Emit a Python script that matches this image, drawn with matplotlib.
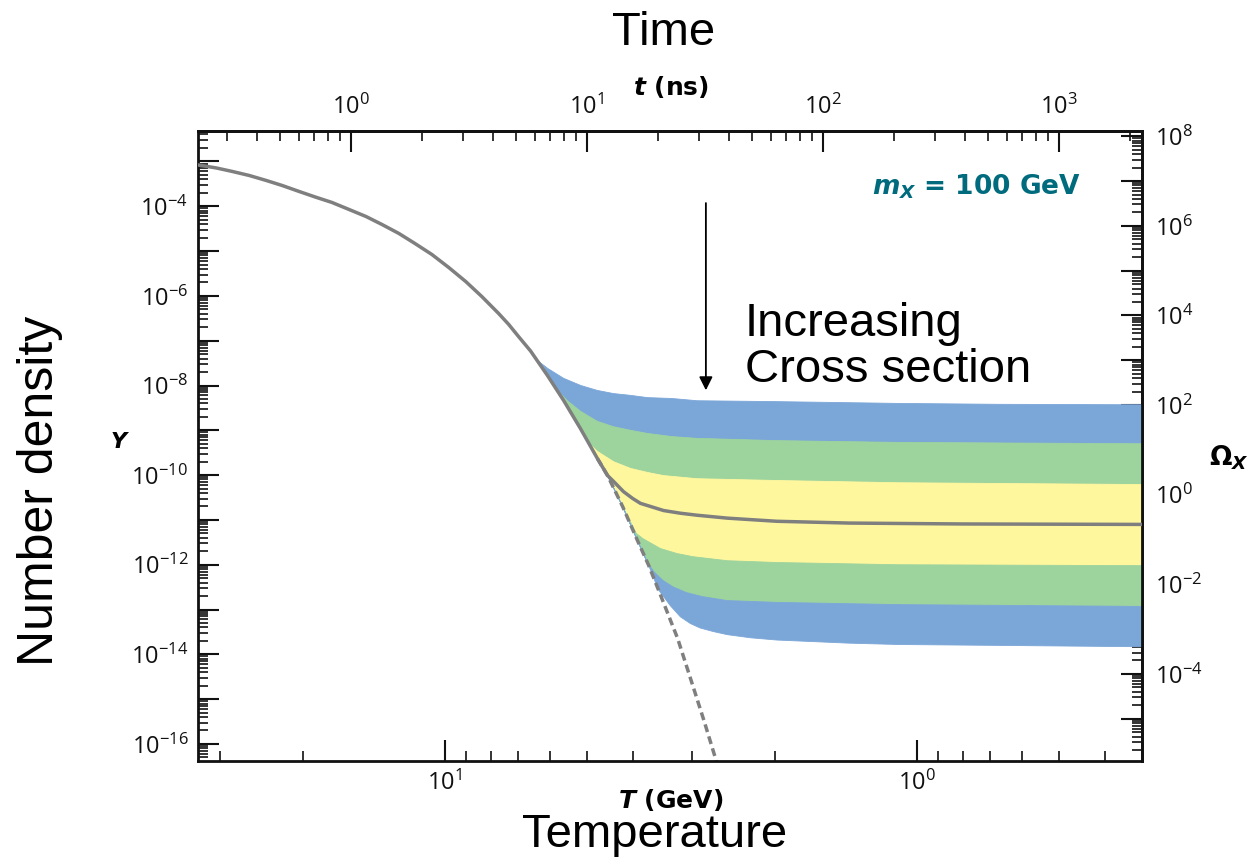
import matplotlib
matplotlib.use('Agg')
import matplotlib.pyplot as plt
import matplotlib.ticker as mticker
import numpy as np

plt.rcParams['font.family'] = ['Open Sans', 'DejaVu Sans']
plt.rcParams['mathtext.fontset'] = 'custom'
plt.rcParams['mathtext.it'] = 'DejaVu Sans:italic:bold'
plt.rcParams['mathtext.rm'] = 'DejaVu Sans:bold'
plt.rcParams['mathtext.bf'] = 'DejaVu Sans:bold'

# conversions
omega_per_Y = 2.74e10      # Omega_X / Y  (m_X = 100 GeV)
t_coef = 250.0             # t[ns] * T[GeV]^2

# equilibrium curve (solid above, dashed below freeze-out), T in GeV, log10 Y
eq_T = np.array([33.33, 30.49, 28.20, 25.96, 23.90, 22.11, 20.35, 18.83, 17.34, 15.96,
                 14.69, 13.59, 12.51, 11.57, 10.65, 9.81, 9.03, 8.35, 7.69, 7.32,
                 6.98, 6.58, 6.06, 5.60, 5.16, 4.75, 4.52,
                 4.20, 3.91, 3.70, 3.49, 3.21, 2.98, 2.82, 2.67, 2.60])
eq_Yexp = np.array([-3.078, -3.145, -3.223, -3.313, -3.424, -3.536, -3.670, -3.792, -3.915, -4.071,
                    -4.228, -4.406, -4.607, -4.830, -5.076, -5.366, -5.679, -6.013, -6.393, -6.638,
                    -6.906, -7.230, -7.777, -8.335, -8.960, -9.629, -10.009,
                    -10.70, -11.45, -12.01, -12.68, -13.65, -14.71, -15.50, -16.32, -16.75])

# freeze-out curves, from smallest to largest cross section (log10 Y)
c1_T = [6.58, 6.33, 6.05, 5.60, 5.15, 4.75, 4.39, 4.04, 3.72, 3.30, 2.92, 1.98, 1.09, 0.667, 0.333]
c1_Y = [-7.25, -7.46, -7.62, -7.84, -8.00, -8.11, -8.18, -8.22, -8.27, -8.29, -8.34, -8.36, -8.40, -8.42, -8.43]
c2_T = [5.77, 5.50, 5.15, 4.75, 4.39, 4.04, 3.72, 3.30, 2.92, 1.98, 1.09, 0.333]
c2_Y = [-8.11, -8.34, -8.58, -8.80, -8.92, -9.00, -9.07, -9.14, -9.18, -9.23, -9.27, -9.30]
c3_T = [5.15, 4.96, 4.75, 4.39, 4.04, 3.72, 3.44, 2.92, 1.98, 1.09, 0.333]
c3_Y = [-8.96, -9.28, -9.47, -9.70, -9.85, -9.94, -10.01, -10.08, -10.12, -10.17, -10.21]
mid_T = [4.39, 4.18, 4.00, 3.85, 3.44, 3.17, 2.92, 2.52, 1.98, 1.39, 0.80, 0.333]
mid_Y = [-10.14, -10.37, -10.52, -10.63, -10.79, -10.85, -10.895, -10.96, -11.03, -11.07, -11.09, -11.10]
c5_T = [4.04, 3.93, 3.80, 3.49, 3.22, 2.98, 2.52, 1.98, 1.09, 0.333]
c5_Y = [-11.05, -11.30, -11.42, -11.64, -11.75, -11.82, -11.91, -11.95, -12.00, -12.02]
c6_T = [3.73, 3.61, 3.45, 3.29, 3.08, 2.85, 2.52, 1.98, 1.09, 0.333]
c6_Y = [-11.93, -12.15, -12.35, -12.49, -12.62, -12.71, -12.80, -12.84, -12.89, -12.93]
c7_T = [3.53, 3.33, 3.17, 3.02, 2.88, 2.70, 2.52, 2.25, 1.98, 1.39, 1.09, 0.667, 0.333]
c7_Y = [-12.55, -12.91, -13.16, -13.31, -13.41, -13.49, -13.56, -13.63, -13.68, -13.75, -13.78, -13.80, -13.83]

blue = '#7ba6d8'
green = '#9dd39d'
yellow = '#fff79e'
band_colors = [blue, green, yellow, yellow, green, blue]
line_gray = '#7f7f7f'

T_lim = (33.33, 0.3333)
Y_lim = (10 ** -16.38, 10 ** -2.32)


def full_curve(T_pts, Y_exp):
    # a freeze-out curve follows the equilibrium line until it leaves it
    keep = eq_T > T_pts[0]
    T = np.concatenate([eq_T[keep], T_pts])
    Y = 10.0 ** np.concatenate([eq_Yexp[keep], Y_exp])
    return T, Y


def T_to_t(T):
    T = np.asarray(T, float)
    with np.errstate(divide='ignore', invalid='ignore'):
        return t_coef / T ** 2


def t_to_T(t):
    t = np.asarray(t, float)
    with np.errstate(divide='ignore', invalid='ignore'):
        return np.sqrt(t_coef / t)


def Y_to_Om(y):
    return np.asarray(y, float) * omega_per_Y


def Om_to_Y(o):
    return np.asarray(o, float) / omega_per_Y


def make_formatter(lo, hi, every=1):
    lo, hi = min(lo, hi), max(lo, hi)

    def fmt(v, pos):
        if v < lo * 0.999 or v > hi * 1.001:
            return ''
        e = int(round(np.log10(v)))
        if e % every:
            return ''
        return r'$\mathdefault{10^{%d}}$' % e
    return fmt


fig = plt.figure(figsize=(12.54, 8.64), dpi=100)
ax = fig.add_axes([0.1579, 0.1192, 0.7528, 0.7292])
ax.set_xscale('log')
ax.set_yscale('log')

curves = [full_curve(c1_T, c1_Y), full_curve(c2_T, c2_Y), full_curve(c3_T, c3_Y),
          full_curve(mid_T, mid_Y), full_curve(c5_T, c5_Y), full_curve(c6_T, c6_Y),
          full_curve(c7_T, c7_Y)]

for (Ta, Ya), (Tb, Yb), col in zip(curves[:-1], curves[1:], band_colors):
    ax.fill(np.concatenate([Ta, Tb[::-1]]), np.concatenate([Ya, Yb[::-1]]),
            facecolor=col, edgecolor=col, lw=0.6, zorder=1)

dash = eq_T <= 4.75
ax.plot(eq_T[dash], 10.0 ** eq_Yexp[dash], color=line_gray, lw=2.5,
        linestyle=(0, (2.3, 1.3)), zorder=2)
ax.plot(curves[3][0], curves[3][1], color=line_gray, lw=2.5, zorder=3,
        solid_joinstyle='round')

ax.set_xlim(*T_lim)
ax.set_ylim(*Y_lim)

top = ax.secondary_xaxis('top', functions=(T_to_t, t_to_T))
right = ax.secondary_yaxis('right', functions=(Y_to_Om, Om_to_Y))

for axis in (ax.xaxis, ax.yaxis, top.xaxis, right.yaxis):
    axis.set_major_locator(mticker.LogLocator(base=10, numticks=40))
    axis.set_minor_locator(mticker.LogLocator(base=10, subs=np.arange(2, 10), numticks=40))
    axis.set_minor_formatter(mticker.NullFormatter())

ax.yaxis.set_major_formatter(mticker.FuncFormatter(make_formatter(*Y_lim, every=2)))
right.yaxis.set_major_formatter(mticker.FuncFormatter(
    make_formatter(Y_lim[0] * omega_per_Y, Y_lim[1] * omega_per_Y, every=2)))
ax.xaxis.set_major_formatter(mticker.FuncFormatter(make_formatter(*T_lim)))
top.xaxis.set_major_formatter(mticker.FuncFormatter(
    make_formatter(T_to_t(T_lim[0]), T_to_t(T_lim[1]))))

for a in (ax, top, right):
    a.tick_params(which='major', direction='in', length=15, width=1.5, labelsize=17, colors='#111111')
    a.tick_params(which='minor', direction='in', length=7.5, width=1.2, colors='#111111')
ax.tick_params(axis='y', pad=7)
ax.tick_params(axis='x', pad=7)
top.tick_params(pad=8)
right.tick_params(pad=9)
for a in (ax, top, right):
    for sp in a.spines.values():
        sp.set_linewidth(2.0)
        sp.set_color('#111111')

# annotations
ax.annotate('', xy=(0.538, 0.584), xytext=(0.538, 0.890), xycoords='axes fraction',
            arrowprops=dict(arrowstyle='-|>', color='black', lw=1.3, mutation_scale=20))
ax.text(0.579, 0.657, 'Increasing\nCross section', transform=ax.transAxes,
        family='Liberation Sans', fontsize=34, ha='left', va='center', linespacing=1.08)
ax.text(0.825, 0.911, r'$m_X$ = 100 GeV', transform=ax.transAxes, color='#006b7d',
        family='DejaVu Sans', fontsize=19, fontweight='bold', ha='center', va='center')

fig.text(0.529, 0.962, 'Time', family='Liberation Sans', fontsize=34, ha='center', va='center')
fig.text(0.535, 0.899, r'$t$ (ns)', family='DejaVu Sans', fontsize=18, fontweight='bold',
         ha='center', va='center')
fig.text(0.535, 0.074, r'$T$ (GeV)', family='DejaVu Sans', fontsize=18, fontweight='bold',
         ha='center', va='center')
fig.text(0.522, 0.034, 'Temperature', family='Liberation Sans', fontsize=34, ha='center', va='center')
fig.text(0.032, 0.432, 'Number density', family='Liberation Sans', fontsize=36,
         rotation=90, ha='center', va='center')
fig.text(0.096, 0.488, r'$Y$', family='DejaVu Sans', fontsize=16, ha='center', va='center')
fig.text(0.980, 0.470, r'$\Omega_X$', family='DejaVu Sans', fontsize=19, ha='center', va='center')

fig.savefig('out.png', dpi=100)
